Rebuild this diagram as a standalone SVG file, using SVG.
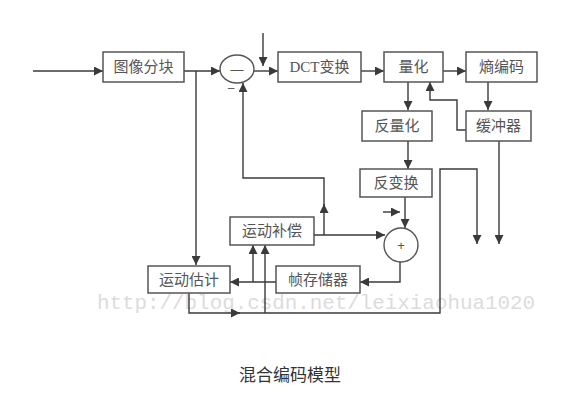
<svg xmlns="http://www.w3.org/2000/svg" width="585" height="416" viewBox="0 0 585 416">
<defs>
<marker id="ah" viewBox="0 0 10 10" refX="10" refY="5" markerWidth="9" markerHeight="9" markerUnits="userSpaceOnUse" orient="auto">
<path d="M0,0 L10,5 L0,10 z" fill="#3a3a3a"/>
</marker>
<style>
.box{fill:#fff;stroke:#555;stroke-width:1.5}
.t{font-family:"Noto Sans CJK SC","Liberation Serif",serif;font-size:15px;fill:#555;text-anchor:middle}
.tl{font-family:"Liberation Serif","Noto Sans CJK SC",serif;font-size:15px;fill:#555;text-anchor:middle}
.c{fill:none;stroke:#3a3a3a;stroke-width:1.4}
.a{marker-end:url(#ah)}
</style>
</defs>
<rect width="585" height="416" fill="#fff"/>
<text x="316" y="309" font-family="Liberation Mono, monospace" font-size="21" fill="#dcdcdc" text-anchor="middle" textLength="438" lengthAdjust="spacingAndGlyphs">http://blog.csdn.net/leixiaohua1020</text>
<g id="connectors">
<path class="c a" d="M33,71 H103"/>
<path class="c a" d="M184,71 H220"/>
<path class="c a" d="M254,71 H278"/>
<path class="c a" d="M263,33 V66"/>
<path class="c a" d="M361,71 H384"/>
<path class="c a" d="M443,71 H466"/>
<path class="c a" d="M408,82 V110"/>
<path class="c a" d="M488,82 V110"/>
<path class="c a" d="M466,130 H457 V100 H430 V82"/>
<path class="c a" d="M408,141 V169"/>
<path class="c a" d="M405,197 V228"/>
<path class="c a" d="M383,212 H400"/>
<path class="c a" d="M314,235 H385"/>
<path class="c a" d="M324,235 V204"/>
<path class="c a" d="M324,206 V178 H243 V83"/>
<path class="c a" d="M196,71 V265"/>
<path class="c a" d="M400,262 V282 H360"/>
<path class="c a" d="M276,282 H230"/>
<path class="c a" d="M253,282 V245"/>
<path class="c a" d="M265,313 V245"/>
<path class="c a" d="M189,292 V313 H240"/>
<path class="c a" d="M238,313 H440 V169 H477 V244"/>
<path class="c a" d="M499,140 V244"/>
<text x="231" y="92" font-family="Liberation Sans, sans-serif" font-size="12" fill="#555" text-anchor="middle">–</text>
</g>
<g id="split"><rect class="box" x="103" y="52" width="81" height="30"/><text class="t" x="143.5" y="72">图像分块</text></g>
<g id="minus"><ellipse cx="237" cy="69" rx="17" ry="14" fill="#fff" stroke="#555" stroke-width="1.4"/><text x="237" y="74" font-family="Liberation Sans, sans-serif" font-size="13" fill="#555" text-anchor="middle">—</text></g>
<g id="dct"><rect class="box" x="278" y="52" width="83" height="30"/><text class="tl" x="319.5" y="72">DCT变换</text></g>
<g id="quant"><rect class="box" x="384" y="52" width="59" height="30"/><text class="t" x="413.5" y="72">量化</text></g>
<g id="entropy"><rect class="box" x="466" y="52" width="71" height="30"/><text class="t" x="501.5" y="72">熵编码</text></g>
<g id="iquant"><rect class="box" x="362" y="111" width="70" height="30"/><text class="t" x="397" y="131">反量化</text></g>
<g id="buffer"><rect class="box" x="466" y="111" width="65" height="30"/><text class="t" x="498.5" y="131">缓冲器</text></g>
<g id="itrans"><rect class="box" x="360" y="169" width="72" height="28"/><text class="t" x="396" y="188">反变换</text></g>
<g id="plus"><circle cx="401" cy="245" r="17" fill="#fff" stroke="#555" stroke-width="1.4"/><text x="401" y="250" font-family="Liberation Sans, sans-serif" font-size="13" fill="#555" text-anchor="middle">+</text></g>
<g id="mc"><rect class="box" x="230" y="217" width="84" height="28"/><text class="t" x="272" y="236">运动补偿</text></g>
<g id="me"><rect class="box" x="148" y="266" width="82" height="27"/><text class="t" x="189" y="285">运动估计</text></g>
<g id="fs"><rect class="box" x="276" y="266" width="84" height="27"/><text class="t" x="318" y="285">帧存储器</text></g>
<text x="290" y="381" font-family="Noto Sans CJK SC, sans-serif" font-size="17" fill="#333" text-anchor="middle">混合编码模型</text>
</svg>
